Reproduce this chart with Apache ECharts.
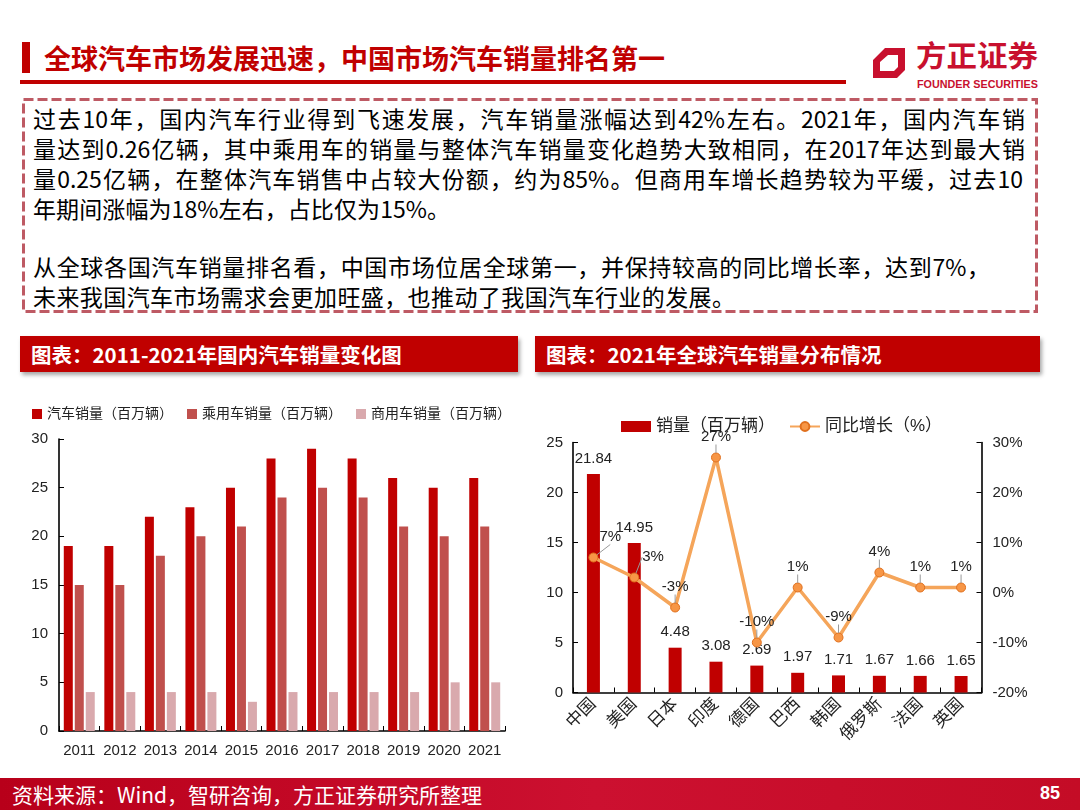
<!DOCTYPE html>
<html><head><meta charset="utf-8">
<script src="https://cdn.jsdelivr.net/npm/echarts@6/dist/echarts.min.js"></script>
<style>
html,body{margin:0;padding:0;}
body{width:1080px;height:810px;position:relative;overflow:hidden;background:#fff;font-family:'Noto Sans CJK SC',sans-serif;}
.abs{position:absolute;white-space:nowrap;}
.line{position:absolute;left:33px;font-size:23px;line-height:30px;height:30px;color:#000;white-space:nowrap;text-align:justify;text-align-last:justify;text-justify:inter-character;}
.sec{position:absolute;top:336px;height:36px;background:#C00000;box-shadow:2px 3px 4px rgba(0,0,0,.35);color:#fff;font-weight:bold;font-size:20.5px;line-height:36px;padding-left:11px;box-sizing:border-box;}
#chart{position:absolute;left:0;top:0;width:1080px;height:810px;}
</style></head>
<body>
<div class="abs" style="left:22px;top:42px;width:8px;height:31px;background:#C00000;"></div>
<div class="abs" style="left:44px;top:40px;font-size:27px;line-height:36px;font-weight:bold;color:#C00000;">全球汽车市场发展迅速，中国市场汽车销量排名第一</div>
<div class="abs" style="left:20px;top:80px;width:826px;height:4px;background:#C00000;"></div>
<svg class="abs" style="left:0;top:0" width="1080" height="100">
  <path fill="#C8102E" fill-rule="evenodd" d="M873,60 L885,48 L905,48 L905,70 L897,78 L873,78 Z M880,62 L888,55 L898,55 L898,67 L894,71 L880,71 Z"/>
  <text x="916" y="67" font-family="Noto Sans CJK SC" font-weight="bold" font-size="29" fill="#C8102E" textLength="122" lengthAdjust="spacingAndGlyphs">方正证券</text>
  <text x="917" y="88" font-family="Liberation Sans" font-weight="bold" font-size="10" fill="#C8102E" textLength="121" lengthAdjust="spacingAndGlyphs">FOUNDER SECURITIES</text>
</svg>
<svg class="abs" style="left:0;top:0" width="1080" height="330">
  <rect x="23.5" y="99.5" width="1013" height="212" fill="none" stroke="#BE5A64" stroke-width="3" stroke-dasharray="10 4"/>
</svg>
<div class="line" style="top:103px;width:992px;">过去10年，国内汽车行业得到飞速发展，汽车销量涨幅达到42%左右。2021年，国内汽车销</div>
<div class="line" style="top:133px;width:992px;">量达到0.26亿辆，其中乘用车的销量与整体汽车销量变化趋势大致相同，在2017年达到最大销</div>
<div class="line" style="top:163px;width:990px;">量0.25亿辆，在整体汽车销售中占较大份额，约为85%。但商用车增长趋势较为平缓，过去10</div>
<div class="line" style="top:193px;width:417px;">年期间涨幅为18%左右，占比仅为15%。</div>
<div class="line" style="top:251px;width:957px;">从全球各国汽车销量排名看，中国市场位居全球第一，并保持较高的同比增长率，达到7%，</div>
<div class="line" style="top:281px;width:702px;">未来我国汽车市场需求会更加旺盛，也推动了我国汽车行业的发展。</div>
<div class="sec" style="left:20px;width:498px;">图表：2011-2021年国内汽车销量变化图</div>
<div class="sec" style="left:535px;width:505px;">图表：2021年全球汽车销量分布情况</div>
<div class="abs" style="left:0;top:778px;width:1080px;height:32px;background:linear-gradient(90deg,#B8001A,#CC1030 55%,#C40C26);"></div>
<div class="abs" style="left:12px;top:778px;height:32px;line-height:32px;font-size:21px;color:#fff;">资料来源：Wind，智研咨询，方正证券研究所整理</div>
<div class="abs" style="left:1040px;top:778px;height:32px;line-height:30px;font-size:18px;font-weight:bold;color:#fff;font-family:'Liberation Sans',sans-serif;">85</div>
<div id="chart"></div>
<script>
const years = ['2011','2012','2013','2014','2015','2016','2017','2018','2019','2020','2021'];
const totalSales = [19,19,22,23,25,28,29,28,26,25,26];
const passengerSales = [15,15,18,20,21,24,25,24,21,20,21];
const commercialSales = [4,4,4,4,3,4,4,4,4,5,5];
const countries = ['中国','美国','日本','印度','德国','巴西','韩国','俄罗斯','法国','英国'];
const countrySales = [21.84,14.95,4.48,3.08,2.69,1.97,1.71,1.67,1.66,1.65];
const countryGrowth = [7,3,-3,27,-10,1,-9,4,1,1];
const leftTicks = [0,30,5];
const rightTicksSales = [0,25,5];
const rightTicksGrowth = [-20,30,10];

const FF = "'Liberation Sans','Noto Sans CJK SC',sans-serif";
const axisLine = {show:true, lineStyle:{color:'#000', width:1.6}};
const axisTick = {show:true, inside:true, length:5, lineStyle:{color:'#000', width:1}};
const lab = {fontSize:15, color:'#222', fontFamily:FF};

const chart = echarts.init(document.getElementById('chart'), null, {renderer:'canvas'});
chart.setOption({
  animation:false,
  backgroundColor:'transparent',
  textStyle:{fontFamily:FF},
  legend:[
    {data:['汽车销量（百万辆）','乘用车销量（百万辆）','商用车销量（百万辆）'], left:27, top:402,
     itemWidth:10, itemHeight:10, itemGap:14, icon:'rect',
     textStyle:{fontSize:14, color:'#222', fontFamily:FF}},
    {data:[{name:'销量（百万辆）', icon:'rect'}, {name:'同比增长（%）'}], left:616, top:413,
     itemWidth:30, itemHeight:11, itemGap:14,
     textStyle:{fontSize:17, color:'#222', fontFamily:FF}}
  ],
  grid:[
    {left:59, top:439, width:446, height:292},
    {left:573, top:442.5, width:408.5, height:250}
  ],
  xAxis:[
    {gridIndex:0, type:'category', data:years, axisLine:axisLine, axisTick:axisTick,
     axisLabel:Object.assign({margin:12, interval:0}, lab)},
    {gridIndex:1, type:'category', data:countries, axisLine:axisLine, axisTick:axisTick,
     axisLabel:Object.assign({}, lab, {margin:9, interval:0, rotate:45, fontSize:17})}
  ],
  yAxis:[
    {gridIndex:0, type:'value', min:leftTicks[0], max:leftTicks[1], interval:leftTicks[2],
     axisLine:axisLine, axisTick:axisTick, splitLine:{show:false},
     axisLabel:Object.assign({margin:11}, lab)},
    {gridIndex:1, type:'value', min:rightTicksSales[0], max:rightTicksSales[1], interval:rightTicksSales[2],
     axisLine:axisLine, axisTick:axisTick, splitLine:{show:false},
     axisLabel:Object.assign({margin:10}, lab)},
    {gridIndex:1, type:'value', position:'right', min:rightTicksGrowth[0], max:rightTicksGrowth[1], interval:rightTicksGrowth[2],
     axisLine:axisLine, axisTick:axisTick, splitLine:{show:false},
     axisLabel:Object.assign({margin:11, formatter:'{value}%'}, lab)}
  ],
  series:[
    {name:'汽车销量（百万辆）', type:'bar', xAxisIndex:0, yAxisIndex:0, data:totalSales,
     barWidth:9, barGap:'22%', itemStyle:{color:'#C00000'}},
    {name:'乘用车销量（百万辆）', type:'bar', xAxisIndex:0, yAxisIndex:0, data:passengerSales,
     barWidth:9, barGap:'22%', itemStyle:{color:'#C0504D'}},
    {name:'商用车销量（百万辆）', type:'bar', xAxisIndex:0, yAxisIndex:0, data:commercialSales,
     barWidth:9, barGap:'22%', itemStyle:{color:'#D9A9AD'}},
    {name:'销量（百万辆）', type:'bar', xAxisIndex:1, yAxisIndex:1, data:countrySales,
     barWidth:13, itemStyle:{color:'#C00000'},
     label:{show:true, position:'top', distance:8, fontSize:15, color:'#222', fontFamily:FF}},
    {name:'同比增长（%）', type:'line', xAxisIndex:1, yAxisIndex:2, data:countryGrowth,
     symbol:'circle', symbolSize:9,
     lineStyle:{color:'#F5A55A', width:3.5},
     itemStyle:{color:'#F79646', borderColor:'#E0701E', borderWidth:1},
     label:{show:true, position:'top', distance:8, fontSize:15, color:'#222', fontFamily:FF, formatter:'{c}%'},
     labelLine:{show:true, showAbove:true, lineStyle:{color:'#999999', width:1}},
     labelLayout:function(p){
       if(p.dataIndex===0 || p.dataIndex===1){
         const cx = p.rect.x + p.rect.width/2;
         return {x: cx + (p.dataIndex===0 ? 6 : 8), y: p.rect.y - 23};
       }
       return {};
     },
     z:5}
  ]
});
</script>
</body></html>
